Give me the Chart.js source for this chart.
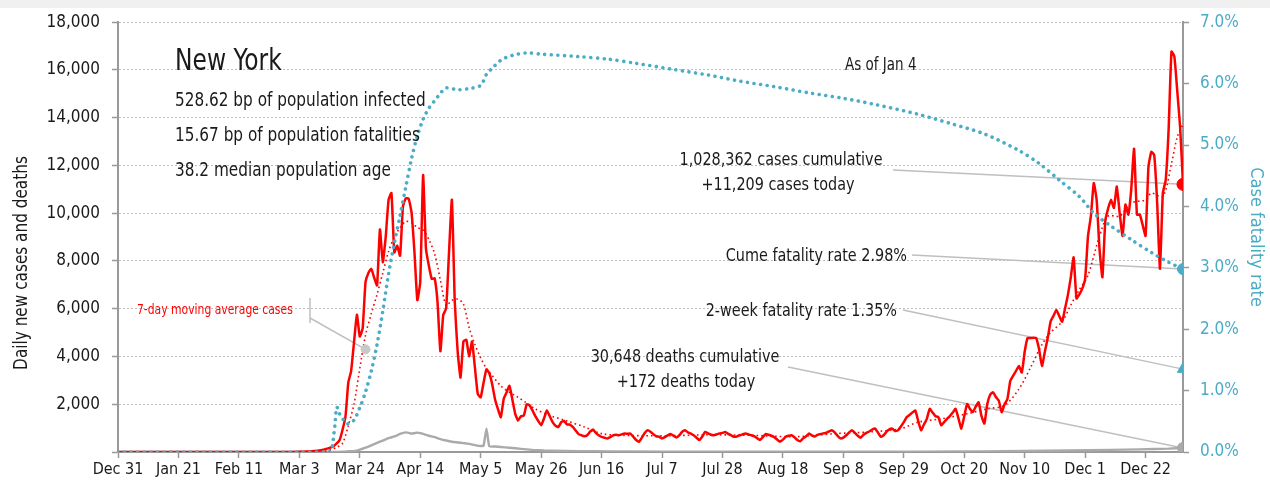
<!DOCTYPE html>
<html>
<head>
<meta charset="utf-8">
<script src="https://cdn.jsdelivr.net/npm/chart.js@4.4.1/dist/chart.umd.min.js"></script>
<style>
html,body{margin:0;padding:0;background:#fff;}
canvas{display:block;}
</style>
</head>
<body>
<canvas id="c" width="1270" height="493"></canvas>
<script>
// ---------- DATA (day index counted from Dec 31, 2019) ----------
const tickDays   = [0,21,42,63,84,105,126,147,168,189,210,231,252,273,294,315,336,357];
const tickLabels = ["Dec 31","Jan 21","Feb 11","Mar 3","Mar 24","Apr 14","May 5","May 26","Jun 16","Jul 7","Jul 28","Aug 18","Sep 8","Sep 29","Oct 20","Nov 10","Dec 1","Dec 22"];

const caseDays = [0,30,60,66,70,73,75,77,79,80,81,82,83,84,85,86,87,88,89,90,91,92,93,94,95,96,97,98,99,100,101,102,103,104,105,106,107,108,109,110,111,112,113,114,115,116,117,118,119,120,121,122,123,124,125,126,127,128,129,130,131,132,133,134,135,136,137,138,139,140,141,142,143,144,145,146,147,148,149,150,151,152,153,154,155,156,157,158,159,160,161,162,163,164,165,166,167,168,169,170,171,172,173,174,175,176,177,178,179,180,181,182,183,184,185,186,187,188,189,190,191,192,193,194,195,196,197,198,199,200,201,202,203,204,205,206,207,208,209,210,211,212,213,214,215,216,217,218,219,220,221,222,223,224,225,226,227,228,229,230,231,232,233,234,235,236,237,238,239,240,241,242,243,244,245,246,247,248,249,250,251,252,253,254,255,256,257,258,259,260,261,262,263,264,265,266,267,268,269,270,271,272,273,274,275,276,277,278,279,280,281,282,283,284,285,286,287,288,289,290,291,292,293,294,295,296,297,298,299,300,301,302,303,304,305,306,307,308,309,310,311,312,313,314,315,316,317,318,319,320,321,322,323,324,325,326,327,328,329,330,331,332,333,334,335,336,337,338,339,340,341,342,343,344,345,346,347,348,349,350,351,352,353,354,355,356,357,358,359,360,361,362,363,364,365,366,367,368,369,370];
const caseValues = [0,0,0,20,60,150,250,500,1460,2900,3400,4600,5750,4840,5180,7120,7500,7670,7300,6980,9320,7950,9000,10560,10840,8360,8640,8220,10290,10630,10600,10010,8360,6360,7120,11600,8500,7800,7250,7270,6290,4220,5740,6010,8360,10560,6290,4220,3120,4630,4700,4010,4630,3530,2430,2290,2900,3460,3300,2840,2200,1800,1460,2220,2500,2770,2200,1600,1320,1500,1530,2000,1950,1740,1500,1300,1120,1400,1740,1500,1250,1100,1050,1250,1300,1150,1150,1050,900,750,700,660,700,850,940,800,700,630,600,570,620,700,720,700,740,770,760,770,640,500,430,600,800,910,850,740,660,640,570,620,700,750,680,610,700,850,910,820,770,700,600,500,650,840,780,720,700,740,780,800,840,760,700,640,650,700,740,770,740,700,660,580,500,620,750,720,680,620,520,430,520,640,680,700,620,500,450,570,650,770,700,650,720,750,780,800,860,910,820,680,570,600,700,820,910,800,680,600,720,800,860,940,980,820,640,700,850,950,980,880,910,1070,1250,1460,1550,1650,1740,1300,910,1150,1390,1810,1650,1500,1460,1120,1250,1390,1500,1650,1810,1400,980,1500,2010,1800,1670,1900,2080,1500,1190,2010,2400,2500,2300,2150,1670,2000,2220,2980,3200,3400,3600,3330,4200,4770,4770,4780,4770,4300,3600,4200,4770,5460,5700,5950,5700,5460,6000,6570,7300,8150,6430,6600,6840,7250,9050,9880,11260,10560,8500,7320,9670,10200,10560,10220,11120,10000,9050,10360,9940,10980,12700,9940,9940,9500,9050,11950,12570,12430,10500,7670,10840,11400,13500,16770,16560,15120,13600,11209];

const maDays   = [0,70,74,76,78,80,82,84,86,88,90,92,94,96,98,100,102,104,106,108,110,112,114,116,118,120,122,124,126,128,130,133,136,139,142,145,150,156,162,168,175,190,205,220,235,249,261,272,278,286,295,302,308,313,317,321,324,328,331,334,337,341,344,348,352,357,359,363,366,368,370];
const maValues = [0,0,100,200,360,1100,2010,3500,4900,5800,6600,7500,8400,9000,9400,9650,9600,9400,9300,8900,8300,7200,6150,6350,6400,6200,5200,4500,3940,3500,3200,2770,2500,2290,2050,1800,1530,1300,1050,770,700,680,720,700,640,770,840,980,1250,1390,1600,1810,1950,2640,3530,4500,5000,5460,6150,6800,7400,9050,9880,9880,10430,10560,10840,10700,12080,13190,13740];

const deathDays   = [0,75,78,80,83,86,88,90,92,94,96,97,98,100,101,102,103,104,105,107,108,110,112,114,116,118,120,122,124,126,127,128,129,131,133,136,140,144,148,155,165,180,200,230,260,280,300,315,330,345,355,365,370];
const deathValues = [0,0,10,30,60,180,280,380,480,580,650,700,760,820,800,770,790,810,790,720,680,620,540,480,430,400,370,340,290,250,260,980,240,230,210,180,130,90,65,45,30,20,15,10,12,15,25,40,60,90,110,140,172];

const cfrDays   = [0,73,75,76,77,78,79,80,82,84,86,88,90,92,94,96,98,100,102,104,106,108,110,112,114,118,122,126,128,130,133,137,142,147,160,170,180,193,205,216,228,240,252,263,278,290,301,313,320,327,334,339,345,352,359,365,370];
const cfrValues = [0,0,0.3,0.73,0.62,0.55,0.48,0.46,0.52,0.72,0.98,1.32,1.75,2.3,2.9,3.4,3.85,4.32,4.78,5.15,5.42,5.6,5.72,5.84,5.93,5.9,5.92,5.97,6.15,6.25,6.38,6.46,6.5,6.48,6.44,6.40,6.33,6.23,6.14,6.04,5.95,5.85,5.76,5.66,5.5,5.34,5.18,4.91,4.7,4.43,4.16,3.89,3.68,3.46,3.25,3.09,2.98];

const lastDay = 370;
const casesToday = 11209;
const deathsToday = 172;
const cumeCFR = 2.98;
const twoWeekCFR = 1.35;
const maMarker = {day: 86, value: 4300};

const stateName = "New York";
const infoLines = ["528.62 bp of population infected","15.67 bp of population fatalities","38.2 median population age"];
const asOfText = "As of Jan 4";
const casesLabel = ["1,028,362 cases cumulative","+11,209 cases today"];
const cumeLabel = "Cume fatality rate 2.98%";
const twoWeekLabel = "2-week fatality rate 1.35%";
const deathsLabel = ["30,648 deaths cumulative","+172 deaths today"];
const maLabel = "7-day moving average cases";
const leftTitle = "Daily new cases and deaths";
const rightTitle = "Case fatality rate";

// ---------- STYLE ----------
const FONT = '"DejaVu Sans Condensed", "DejaVu Sans", sans-serif';
const RED = '#ff0000', BLUE = '#4bacc6', GRAY = '#aaaaaa', LEADER = '#bfbfbf', AXIS = '#999999', INK = '#1a1a1a';
const TALL = 1.15; // vertical stretch for narrow-tall lettering

const zip = (xs, ys) => xs.map((x, i) => ({x: x, y: ys[i]}));

function txt(c, t, x, y, size, align, color) {
  c.save();
  c.translate(x, y);
  c.scale(1, TALL);
  c.font = size + 'px ' + FONT;
  c.textAlign = align;
  c.textBaseline = 'middle';
  c.fillStyle = color;
  c.fillText(t, 0, 0);
  c.restore();
}

const annot = {
  id: 'annot',
  beforeDraw(chart) {
    const c = chart.ctx;
    c.save(); c.fillStyle = '#f0f0f0'; c.fillRect(0, 0, chart.width, 8); c.restore();
  },
  beforeDatasetsDraw(chart) {
    const c = chart.ctx, s = chart.scales;
    const xEnd = s.x.getPixelForValue(lastDay);
    c.save();
    c.strokeStyle = LEADER; c.lineWidth = 1.5;
    const seg = (x1, y1, x2, y2) => { c.beginPath(); c.moveTo(x1, y1); c.lineTo(x2, y2); c.stroke(); };
    seg(893, 170, xEnd, s.y.getPixelForValue(casesToday));
    seg(912, 255, xEnd, s.y2.getPixelForValue(cumeCFR));
    seg(903, 310, xEnd, s.y2.getPixelForValue(twoWeekCFR));
    seg(788, 367, xEnd, s.y.getPixelForValue(deathsToday));
    seg(310, 298, 310, 323);
    seg(310, 318, s.x.getPixelForValue(maMarker.day), s.y.getPixelForValue(maMarker.value));
    c.restore();
  },
  afterDatasetsDraw(chart) {
    const c = chart.ctx;
    txt(c, stateName, 175, 62, 26, 'left', INK);
    infoLines.forEach((t, i) => txt(c, t, 175, 101 + i * 35, 17, 'left', INK));
    txt(c, asOfText, 845, 66, 15, 'left', INK);
    txt(c, casesLabel[0], 781, 160, 16, 'center', INK);
    txt(c, casesLabel[1], 778, 185, 16, 'center', INK);
    txt(c, deathsLabel[0], 685, 357, 16, 'center', INK);
    txt(c, deathsLabel[1], 686, 382, 16, 'center', INK);
    txt(c, cumeLabel, 907, 256, 16, 'right', INK);
    txt(c, twoWeekLabel, 897, 311, 16, 'right', INK);
    txt(c, maLabel, 137, 310, 12, 'left', RED);
    // left axis title
    c.save();
    c.translate(22, 263);
    c.rotate(-Math.PI / 2);
    c.scale(1, TALL);
    c.textAlign = 'center';
    c.textBaseline = 'middle';
    c.fillStyle = INK;
    c.font = '17px ' + FONT;
    c.fillText(leftTitle, 0, 0);
    c.restore();
  }
};

const tickFont = {family: FONT, size: 17};
const xTickFont = {family: FONT, size: 16};

new Chart(document.getElementById('c'), {
  type: 'line',
  data: {
    datasets: [
      {label: 'end cases', data: [{x: lastDay, y: casesToday}], yAxisID: 'y', showLine: false, pointRadius: 6, pointBackgroundColor: RED, pointBorderColor: RED},
      {label: 'end cfr', data: [{x: lastDay, y: cumeCFR}], yAxisID: 'y2', showLine: false, pointRadius: 5.5, pointBackgroundColor: BLUE, pointBorderColor: BLUE},
      {label: 'end 2wk', data: [{x: lastDay, y: twoWeekCFR}], yAxisID: 'y2', showLine: false, pointStyle: 'triangle', pointRadius: 6.5, pointBackgroundColor: BLUE, pointBorderColor: BLUE},
      {label: 'end deaths', data: [{x: lastDay, y: deathsToday}], yAxisID: 'y', showLine: false, pointRadius: 5.5, pointBackgroundColor: GRAY, pointBorderColor: GRAY},
      {label: 'ma marker', data: [{x: maMarker.day, y: maMarker.value}], yAxisID: 'y', showLine: false, pointRadius: 4.5, pointBackgroundColor: '#c8c8c8', pointBorderColor: '#c8c8c8'},
      {label: 'CFR', data: zip(cfrDays, cfrValues), yAxisID: 'y2', borderColor: BLUE, borderWidth: 3.6, borderDash: [0.01, 6.6], borderCapStyle: 'round', pointRadius: 0, tension: 0.3},
      {label: 'MA', data: zip(maDays, maValues), yAxisID: 'y', borderColor: RED, borderWidth: 1.6, borderDash: [1.6, 3], pointRadius: 0, tension: 0.3},
      {label: 'Cases', data: zip(caseDays, caseValues), yAxisID: 'y', borderColor: RED, borderWidth: 2.5, pointRadius: 0, tension: 0.15},
      {label: 'Deaths', data: zip(deathDays, deathValues), yAxisID: 'y', borderColor: GRAY, borderWidth: 2.4, pointRadius: 0, tension: 0.15}
    ]
  },
  options: {
    responsive: false,
    animation: false,
    events: [],
    layout: {padding: {top: 17, left: 0, right: 0, bottom: 0}},
    plugins: {legend: {display: false}, tooltip: {enabled: false}},
    scales: {
      x: {
        type: 'linear', min: 0, max: lastDay,
        afterBuildTicks: s => { s.ticks = tickDays.map(v => ({value: v})); },
        afterFit: s => { s.height = 41; },
        ticks: {callback: (v, i) => tickLabels[i], font: xTickFont, color: INK, maxRotation: 0, minRotation: 0, autoSkip: false, padding: 2},
        grid: {drawOnChartArea: false, drawTicks: true, tickLength: 6, tickColor: AXIS, tickWidth: 1.5},
        border: {color: AXIS, width: 2}
      },
      y: {
        position: 'left', min: 0, max: 18000,
        afterFit: s => { s.width = 118; },
        ticks: {stepSize: 2000, callback: v => v === 0 ? '' : v.toLocaleString('en-US'), font: tickFont, color: INK, padding: 12},
        grid: {color: LEADER, lineWidth: 1, drawTicks: true, tickLength: 6, tickColor: AXIS, tickWidth: 1.5},
        border: {color: AXIS, width: 2, dash: [2, 2]}
      },
      y2: {
        position: 'right', min: 0, max: 7,
        afterFit: s => { s.width = 87; },
        ticks: {stepSize: 1, callback: v => v.toFixed(1) + '%', font: tickFont, color: BLUE, padding: 11},
        grid: {drawOnChartArea: false, drawTicks: true, tickLength: 6, tickColor: AXIS, tickWidth: 1.5},
        border: {color: AXIS, width: 2},
        title: {display: true, text: rightTitle, font: {family: FONT, size: 18}, color: BLUE, padding: {top: 4, bottom: 0}}
      }
    }
  },
  plugins: [annot]
});
</script>
</body>
</html>
